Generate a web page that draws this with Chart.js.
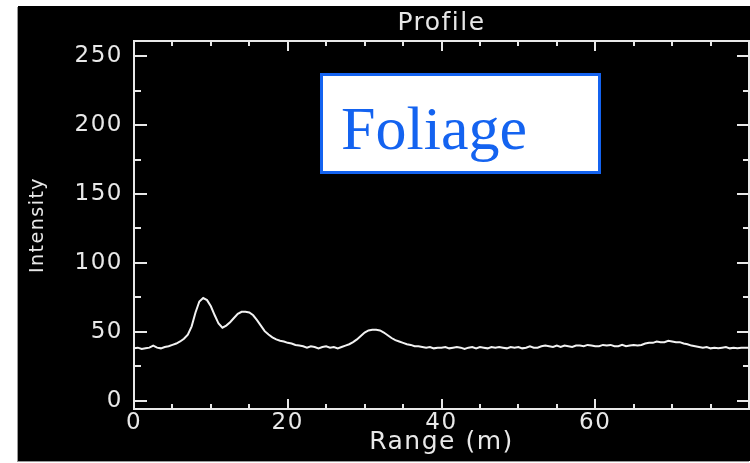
<!DOCTYPE html>
<html lang="en">
<head>
<meta charset="UTF-8">
<title>Profile</title>
<script src="https://cdn.jsdelivr.net/npm/chart.js@4.4.0/dist/chart.umd.min.js"></script>
<style>
  html, body { margin: 0; padding: 0; background: #fff; }
  #frame {
    position: absolute; left: 18px; top: 6px; width: 732px; height: 455px;
    background: #000; box-shadow: -1px 1px 0 #9a9a9a;
  }
  #tag {
    position: absolute; left: 320px; top: 73px; width: 281px; height: 101px;
    box-sizing: border-box; background: #fff; border: 3px solid #1463f0;
  }
  #tag span {
    position: absolute; left: 18px; top: 21px;
    font: 62px/1 "Liberation Serif", "Times New Roman", serif; color: #1463f0;
  }
</style>
</head>
<body>
<div id="frame"><canvas id="chart" width="732" height="455"></canvas></div>
<div id="tag"><span>Foliage</span></div>

<script>
// range along the beam (m) and return intensity
const rangeM = [
  0, 0.5, 1, 1.5, 2, 2.5, 3, 3.5, 4, 4.5, 5, 5.5, 6, 6.5, 7, 7.5, 8, 8.5, 9, 9.5,
  10, 10.5, 11, 11.5, 12, 12.5, 13, 13.5, 14, 14.5, 15, 15.5, 16, 16.5, 17, 17.5, 18, 18.5, 19, 19.5,
  20, 20.5, 21, 21.5, 22, 22.5, 23, 23.5, 24, 24.5, 25, 25.5, 26, 26.5, 27, 27.5, 28, 28.5, 29, 29.5,
  30, 30.5, 31, 31.5, 32, 32.5, 33, 33.5, 34, 34.5, 35, 35.5, 36, 36.5, 37, 37.5, 38, 38.5, 39, 39.5,
  40, 40.5, 41, 41.5, 42, 42.5, 43, 43.5, 44, 44.5, 45, 45.5, 46, 46.5, 47, 47.5, 48, 48.5, 49, 49.5,
  50, 50.5, 51, 51.5, 52, 52.5, 53, 53.5, 54, 54.5, 55, 55.5, 56, 56.5, 57, 57.5, 58, 58.5, 59, 59.5,
  60, 60.5, 61, 61.5, 62, 62.5, 63, 63.5, 64, 64.5, 65, 65.5, 66, 66.5, 67, 67.5, 68, 68.5, 69, 69.5,
  70, 70.5, 71, 71.5, 72, 72.5, 73, 73.5, 74, 74.5, 75, 75.5, 76, 76.5, 77, 77.5, 78, 78.5, 79, 79.5,
  80
];
const intensity = [
  38, 38.5, 37.5, 38, 38.5, 40, 38.5, 38, 39, 39.5, 40.5, 41.5, 43, 45, 48, 54, 64, 72, 74.5, 73,
  68.5, 62, 56, 53, 54.5, 57, 60, 63, 64.5, 64.5, 64, 62, 58.5, 54.5, 50.5, 48, 46, 44.5, 43.5, 43,
  42, 41.5, 40.5, 40, 39.5, 38.5, 39.5, 39, 38, 39, 39.5, 38.5, 39, 38, 39, 40, 41, 42.5, 44.5, 47,
  49.5, 51, 51.5, 51.5, 51, 49.5, 47.5, 45.5, 44, 43, 42, 41, 40.5, 39.5, 39.5, 39, 38.5, 39, 38, 38.5,
  38.5, 39, 38, 38.5, 39, 38.5, 37.5, 38.5, 39, 38, 39, 38.5, 38, 39, 38.5, 39, 38.5, 38, 39, 38.5,
  39, 38, 38.5, 39.5, 38.5, 38.5, 39.5, 40, 39.5, 39, 40, 39, 40, 39.5, 39, 40, 40, 39.5, 40.5, 40,
  39.5, 39.5, 40.5, 40, 40.5, 39.5, 39.5, 40.5, 39.5, 40, 40.5, 40, 40.5, 41.5, 42, 42, 43, 42.5, 42.5, 43.5,
  43, 42.5, 42.5, 41.5, 41, 40, 39.5, 39, 38.5, 39, 38, 38.5, 38, 38.5, 39, 38, 38.5, 38, 38.5, 38.5,
  38.5
];

const xLabelTicks = [0, 20, 40, 60];
const xAllTicks = [0, 5, 10, 15, 20, 25, 30, 35, 40, 45, 50, 55, 60, 65, 70, 75, 80];
const yLabelTicks = [0, 50, 100, 150, 200, 250];
const yAllTicks = [0, 12.5, 25, 37.5, 50, 62.5, 75, 87.5, 100, 112.5, 125, 137.5, 150,
  162.5, 175, 187.5, 200, 212.5, 225, 237.5, 250];

const xMin = 0, xMax = 80, yMin = -6, yMax = 261;
const ink = '#e8e8e8';

Chart.defaults.font.family = "'DejaVu Sans', sans-serif";

function setTicks(values) {
  return scale => { scale.ticks = values.map(v => ({ value: v })); };
}

// grid lines dashed so only a short stub shows at each end -> inward ticks on both sides
function stubDash(isMajor, majorLen, minorLen, horizontal) {
  return c => {
    const a = c.chart.chartArea;
    const span = horizontal ? (a.right - a.left - 1) : (a.bottom - a.top);
    const len = isMajor(c.tick.value) ? majorLen : minorLen;
    return [len, span - 2 * len, len, 5000];
  };
}

const spacing = {
  id: 'spacing',
  beforeDraw(chart) { chart.ctx.letterSpacing = '1.5px'; }
};

const frameOnly = {
  display: true,
  ticks: { display: false },
  grid: { display: false, drawTicks: false },
  border: { display: true, color: ink, width: 2 }
};

const ctx = document.getElementById('chart').getContext('2d');
new Chart(ctx, {
  type: 'line',
  data: {
    datasets: [{
      data: rangeM.map((r, i) => ({ x: r, y: intensity[i] })),
      borderColor: '#f2f2f2',
      borderWidth: 2,
      pointRadius: 0,
      tension: 0
    }]
  },
  options: {
    responsive: false,
    animation: false,
    layout: { padding: { left: 0, right: 1, top: 0, bottom: 0 } },
    plugins: {
      legend: { display: false },
      tooltip: { enabled: false },
      title: {
        display: true, text: 'Profile', color: ink, fullSize: false,
        font: { size: 25, weight: 'normal' },
        padding: { top: 2, bottom: 3 }
      }
    },
    scales: {
      x: {
        type: 'linear', position: 'bottom', min: xMin, max: xMax,
        afterBuildTicks: setTicks(xAllTicks),
        afterFit: s => { s.height = 52; },
        ticks: {
          color: ink, font: { size: 23 }, padding: 0, maxRotation: 0, autoSkip: false,
          callback: v => xLabelTicks.includes(v) ? v : ''
        },
        grid: { drawOnChartArea: true, drawTicks: false, color: ink, lineWidth: 2 },
        border: {
          display: true, color: ink, width: 2,
          dash: stubDash(v => v % 20 === 0, 10, 5, false)
        },
        title: { display: true, text: 'Range (m)', color: ink,
                 font: { size: 25 }, padding: { top: 0, bottom: 4 } }
      },
      y: {
        type: 'linear', position: 'left', min: yMin, max: yMax,
        afterBuildTicks: setTicks(yAllTicks),
        afterFit: s => { s.width = 116; },
        ticks: {
          color: ink, font: { size: 23 }, padding: 11,
          callback: v => yLabelTicks.includes(v) ? v : ''
        },
        grid: { drawOnChartArea: true, drawTicks: false, color: ink, lineWidth: 2 },
        border: {
          display: true, color: ink, width: 2,
          dash: stubDash(v => v % 50 === 0, 12, 6, true)
        },
        title: { display: true, text: 'Intensity', color: ink,
                 font: { size: 19 }, padding: { top: 9, bottom: 0 } }
      },
      xTop: Object.assign({ type: 'linear', position: 'top', min: xMin, max: xMax }, frameOnly),
      yRight: Object.assign({ type: 'linear', position: 'right', min: yMin, max: yMax }, frameOnly)
    }
  },
  plugins: [spacing]
});
</script>
</body>
</html>
